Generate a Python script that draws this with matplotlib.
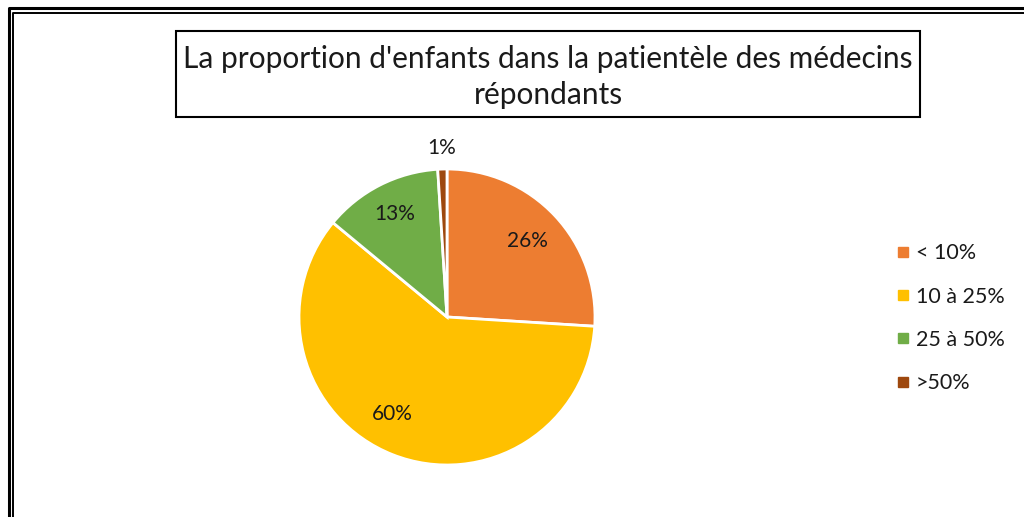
import matplotlib
matplotlib.use("Agg")
import matplotlib.pyplot as plt
import numpy as np
from matplotlib.lines import Line2D
from matplotlib.patches import Rectangle

# Data
categories = ["< 10%", "10 à 25%", "25 à 50%", ">50%"]
values = [26, 60, 13, 1]
colors = ["#ED7D31", "#FFC000", "#70AD47", "#9E480E"]
title = "La proportion d'enfants dans la patientèle des médecins\nrépondants"

plt.rcParams['font.family'] = ['Lato', 'DejaVu Sans']

W, H = 1024, 517
fig = plt.figure(figsize=(W / 100, H / 100), dpi=100)

# overlay in pixel coords for frame and title box
bg = fig.add_axes([0, 0, 1, 1])
bg.set_xlim(0, W)
bg.set_ylim(H, 0)
bg.axis('off')
bg.plot([8.5, 8.5, W + 5], [H + 5, 8, 8], color='black', lw=2.2, solid_capstyle='butt')
bg.plot([13, 13, W + 5], [H + 5, 13, 13], color='black', lw=1.4, solid_capstyle='butt')
bg.add_patch(Rectangle((176, 31), 744, 86, fill=False, edgecolor='black', lw=1.5))
bg.text(548, 77, title, ha='center', va='center', fontsize=21.5,
        linespacing=1.35, color='#1a1a1a')

# pie
cx, cy, R = 447, 317, 148
ax = fig.add_axes([(cx - R) / W, (H - cy - R) / H, 2 * R / W, 2 * R / H])
wedges, _ = ax.pie(values, colors=colors, startangle=90, counterclock=False,
                   wedgeprops=dict(edgecolor='white', linewidth=2))
ax.set_xlim(-1, 1)
ax.set_ylim(-1, 1)
ax.set_aspect('equal')

# label radius and angle shift (Excel best fit placement)
label_r = [0.75, 0.75, 0.78, 1.14]
label_shift = [0, -8, 0, 0]
for w, v, r, s in zip(wedges, values, label_r, label_shift):
    ang = np.deg2rad((w.theta1 + w.theta2) / 2 + s)
    ax.text(r * np.cos(ang), r * np.sin(ang), f"{v}%", ha='center', va='center',
            fontsize=15, color='#1a1a1a')

handles = [Line2D([0], [0], marker='s', linestyle='none', markersize=7,
                  markerfacecolor=c, markeredgecolor=c) for c in colors]
fig.legend(handles, categories, loc='upper left',
           bbox_to_anchor=(877 / W, 1 - 224 / H), frameon=False,
           fontsize=15.5, handlelength=0.6, handletextpad=0.3,
           labelspacing=1.08, labelcolor='#1a1a1a')

fig.savefig("out.png", dpi=100)
